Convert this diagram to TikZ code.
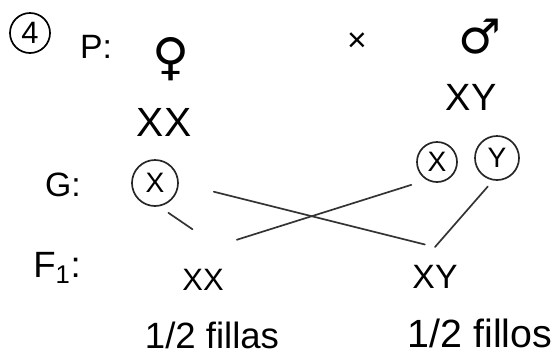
\documentclass[tikz,border=0pt]{standalone}
\usepackage{fontspec}
\setmainfont{Liberation Sans}
\newfontfamily\symfont{DejaVu Sans}
\newcommand{\fs}[1]{\fontsize{#1}{#1}\selectfont}

\begin{document}
\begin{tikzpicture}[x=0.025cm, y=-0.025cm, line width=1.2pt,
    gamete/.style={circle, draw=black!85, minimum size=#1, inner sep=0pt, font=\fs{20}},
    joinline/.style={draw=black!80, line cap=round}]
    \useasboundingbox (0,0) rectangle (560,363);

    % Parents
    \node[circle, draw, minimum size=1cm, inner sep=0pt, font=\fs{22}] (num) at (30,33) {4};
    \node[font=\fs{24}] (plabel) at (96,47) {P:};
    \node[font=\symfont\fs{36}] (fem) at (171,59) {♀};
    \node[font=\fs{24}] (cross) at (357,42) {×};
    \node[font=\symfont\fs{34}] (mal) at (480,37) {♂};
    \node[font=\fs{29}] (pxx) at (164,122) {XX};
    \node[font=\fs{27}] (pxy) at (471,97) {XY};

    % Gametes
    \node[font=\fs{24}] (glabel) at (63,185) {G:};
    \node[gamete=1.15cm] (gxl) at (155,183) {X};
    \node[gamete=1cm] (gxr) at (437,162) {X};
    \node[gamete=1.1cm] (gyr) at (497,158) {Y};

    % Offspring
    \node[font=\fs{26}] (flabel) at (57,268) {F\textsubscript{1}:};
    \node[font=\fs{22}] (fxx) at (203,280) {XX};
    \node[font=\fs{24}] (fxy) at (435,277) {XY};
    \node[font=\fs{26}] (fillas) at (212,335) {1/2 fillas};
    \node[font=\fs{28}] (fillos) at (480,333) {1/2 fillos};

    % Crossing lines
    \coordinate (jxx) at (217,246);
    \coordinate (jxy) at (435,247);
    \draw[joinline, shorten <=0.28cm, shorten >=0.74cm] (gxl.-80) -- (jxx);
    \draw[joinline, shorten <=0.4cm, shorten >=0.52cm] (gxr.-120) -- (jxx);
    \draw[joinline, shorten <=0.9cm, shorten >=0.26cm] (gxl.east) -- (jxy);
    \draw[joinline, shorten <=0.2cm] (gyr.-100) -- (jxy);
\end{tikzpicture}
\end{document}
